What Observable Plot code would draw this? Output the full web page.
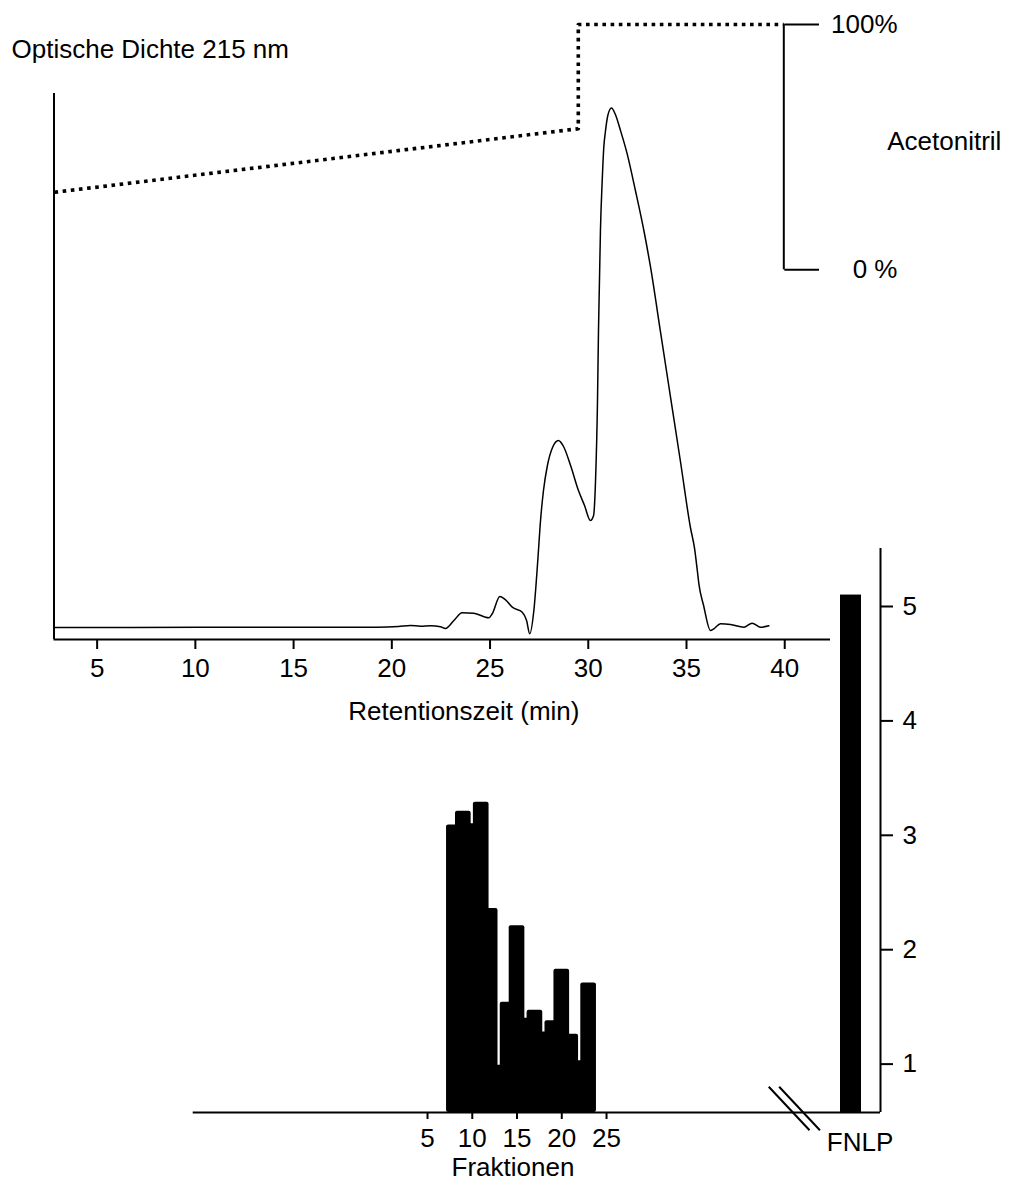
<!DOCTYPE html>
<html><head><meta charset="utf-8">
<script src="https://cdn.jsdelivr.net/npm/d3@7"></script>
<script src="https://cdn.jsdelivr.net/npm/@observablehq/plot@0.6"></script>
<style>
html,body{margin:0;padding:0;background:#fff;}
#chart{position:relative;width:1009px;height:1180px;overflow:hidden;background:#fff;}
#chart svg{position:absolute;left:0;top:0;}
</style></head><body><div id="chart"></div>
<script>
// ---- Chromatogram (Retentionszeit in min, optische Dichte in relativen Einheiten) ----
const retentionTime = [2.83, 10.26, 19.22, 20.34, 20.95, 21.46, 21.97, 22.48, 22.73, 23.16, 23.58, 24.17, 24.94, 25.11, 25.50, 25.79, 26.13, 26.64, 26.86, 27.02, 27.23, 27.43, 27.57, 27.72, 27.92, 28.18, 28.48, 28.74, 29.10, 29.50, 29.81, 30.11, 30.27, 30.37, 30.47, 30.52, 30.57, 30.62, 30.71, 30.79, 30.87, 31.00, 31.18, 31.38, 31.64, 31.98, 32.40, 32.83, 33.17, 33.68, 34.19, 34.70, 35.20, 35.41, 35.55, 35.63, 35.87, 36.22, 36.39, 36.73, 37.24, 37.92, 38.34, 38.77, 39.19];
const opticalDensity = [0.0, 0.05, 0.07, 0.2, 0.39, 0.27, 0.34, 0.14, -0.18, 1.36, 2.84, 2.76, 1.88, 2.65, 5.98, 5.34, 3.92, 2.96, 1.36, -1.2, 3.28, 12.91, 20.61, 26.38, 31.19, 34.66, 36.0, 34.85, 31.19, 26.38, 23.49, 20.61, 21.57, 28.31, 43.71, 57.18, 66.8, 76.43, 86.05, 92.46, 95.39, 98.66, 100, 98.76, 95.68, 91.19, 84.13, 76.43, 69.36, 56.8, 44.28, 31.77, 19.26, 15.22, 10.98, 8.42, 4.24, -0.57, -0.24, 0.72, 0.59, 0.06, 0.84, 0.06, 0.33];
const retentionTicks = [5, 10, 15, 20, 25, 30, 35, 40];

// ---- Acetonitril-Gradient ----
const gradientTime = [2.83, 29.49, 29.49, 39.95];
const acetonitrilePct = [31.6, 57.5, 100, 100];
const gradientTicks = [0, 100];
const gradientTickLabels = ["0 %", "100%"];

// ---- Fraktionen (Aktivität) ----
const fractions = [8, 9, 10, 11, 12, 13, 14, 15, 16, 17, 18, 19, 20, 21, 22, 23];
const fractionActivity = [3.09, 3.21, 3.10, 3.29, 2.36, 0.99, 1.54, 2.21, 1.40, 1.47, 1.28, 1.38, 1.83, 1.26, 1.03, 1.71];
const fractionTicks = [5, 10, 15, 20, 25];
const activityTicks = [1, 2, 3, 4, 5];
const fnlpNames = ["FNLP"];
const fnlpActivity = [5.10];

// ---- layout ----
const W = 1009, H = 1180, FS = 26;
const font = '"Liberation Sans", Arial, Helvetica, sans-serif';
const style = {fontFamily: font, fontSize: FS + "px", background: "transparent", overflow: "visible"};

const timeDomain = [2.804, 42.33];
const odDomain = [-2.3, 102.8];
const fracDomain = [-21.18, 55.61];
const actDomain = [0.577, 5.507];
const halfBar = 0.875;
const axisBreak = 46.04;

const chromData = retentionTime.map((t, i) => ({t, od: opticalDensity[i]}));
const gradData = gradientTime.map((t, i) => ({t, p: acetonitrilePct[i]}));
const fracData = fractions.map((f, i) => ({f, a: fractionActivity[i]}));
const fnlpData = fnlpNames.map((name, i) => ({name, a: fnlpActivity[i]}));

const chart = document.getElementById("chart");

// Plot A: chromatogram
chart.append(Plot.plot({
  width: W, height: H, marginTop: 93, marginBottom: H - 639, marginLeft: 53.5, marginRight: W - 830,
  style,
  x: {domain: timeDomain},
  y: {domain: odDomain, axis: null},
  marks: [
    Plot.ruleX([timeDomain[0]], {stroke: "black", strokeWidth: 2}),
    Plot.ruleY([odDomain[0]], {stroke: "black", strokeWidth: 2}),
    Plot.line(chromData, {x: "t", y: "od", stroke: "black", strokeWidth: 1.5, curve: "monotone-x"}),
    Plot.axisX(retentionTicks, {anchor: "bottom", tickSize: 10, tickPadding: 9.5, strokeWidth: 2, fontSize: FS, label: null}),
    Plot.text(["Optische Dichte 215 nm"], {frameAnchor: "top-left", dx: -42.5, dy: -35.4, textAnchor: "start", lineAnchor: "bottom", fontSize: FS, fill: "black"}),
    Plot.text(["Retentionszeit (min)"], {frameAnchor: "bottom", dx: 21.6, dy: 80.6, lineAnchor: "bottom", fontSize: FS, fill: "black"})
  ]
}));

// Plot B: acetonitrile gradient (right axis at the end of the run)
chart.append(Plot.plot({
  width: W, height: H, marginTop: 24, marginBottom: H - 269.3, marginLeft: 53.5, marginRight: W - 783.3,
  style,
  x: {domain: [timeDomain[0], d3.max(gradientTime)], axis: null},
  y: {domain: [0, 100]},
  marks: [
    Plot.line(gradData, {x: "t", y: "p", stroke: "black", strokeWidth: 3.6, strokeDasharray: "3.6,4.6", strokeLinecap: "butt", curve: "linear"}),
    Plot.ruleX([d3.max(gradientTime)], {stroke: "black", strokeWidth: 2}),
    Plot.axisY(gradientTicks, {anchor: "right", tickSize: 34.7, tickPadding: 79, textAnchor: "end",
      tickFormat: d => gradientTickLabels[gradientTicks.indexOf(d)], strokeWidth: 2, fontSize: FS, label: null}),
    Plot.text(["Acetonitril"], {frameAnchor: "top-right", dx: 103.4, dy: 125, textAnchor: "start", lineAnchor: "bottom", fontSize: FS, fill: "black"})
  ]
}));

// Plot C: fraction bars + right axis
chart.append(Plot.plot({
  width: W, height: H, marginTop: 548, marginBottom: H - 1112, marginLeft: 192.7, marginRight: W - 880,
  style,
  x: {domain: fracDomain},
  y: {domain: actDomain},
  marks: [
    Plot.rect(fracData, {x1: d => d.f - halfBar, x2: d => d.f + halfBar, y1: () => actDomain[0], y2: "a", fill: "black", rx: 2}),
    Plot.ruleY([actDomain[0]], {stroke: "black", strokeWidth: 2}),
    Plot.ruleX([fracDomain[1]], {stroke: "black", strokeWidth: 2}),
    Plot.axisX(fractionTicks, {anchor: "bottom", tickSize: 7, tickPadding: 9.2, strokeWidth: 2, fontSize: FS, label: null}),
    Plot.axisY(activityTicks, {anchor: "right", tickSize: 12, tickPadding: 10, strokeWidth: 2, fontSize: FS, label: null, tickFormat: d => `${d}`}),
    Plot.text(["Fraktionen"], {frameAnchor: "bottom", dx: -23.9, dy: 63, lineAnchor: "bottom", fontSize: FS, fill: "black"}),
    (index, scales, values, dims) => {
      const g = d3.create("svg:g").attr("stroke", "black").attr("stroke-width", 2);
      let cx = typeof scales.x === "function" ? scales.x(axisBreak) : NaN;
      if (!isFinite(cx)) {
        const l = dims.marginLeft, r = dims.width - dims.marginRight;
        cx = l + (axisBreak - fracDomain[0]) / (fracDomain[1] - fracDomain[0]) * (r - l);
      }
      const cy = dims.height - dims.marginBottom - 3.5;
      for (const off of [-5.2, 5.2]) {
        g.append("line").attr("x1", cx + off - 20.4).attr("y1", cy - 21.7)
          .attr("x2", cx + off + 20.4).attr("y2", cy + 21.7);
      }
      return g.node();
    }
  ]
}));

// Plot D: FNLP bar
chart.append(Plot.plot({
  width: W, height: H, marginTop: 548, marginBottom: H - 1112, marginLeft: 839.3, marginRight: W - 860.7,
  style,
  x: {type: "band", domain: fnlpNames, padding: 0, axis: null},
  y: {domain: actDomain, axis: null},
  marks: [
    Plot.barY(fnlpData, {x: "name", y1: () => actDomain[0], y2: "a", fill: "black"}),
    Plot.text(fnlpData, {x: "name", text: "name", frameAnchor: "bottom", dx: 9, dy: 38.7, lineAnchor: "bottom", fontSize: FS, fill: "black"})
  ]
}));
</script></body></html>
